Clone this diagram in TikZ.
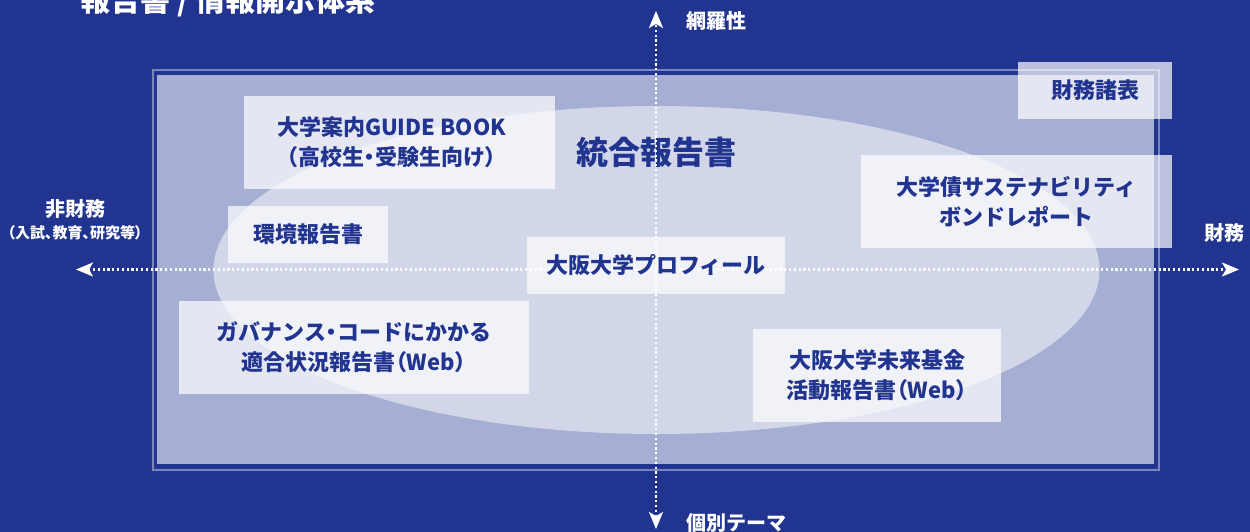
\documentclass[tikz,border=0pt]{standalone}
\usepackage{fontspec}
\setmainfont{Noto Sans CJK JP}
\usetikzlibrary{arrows.meta}
\definecolor{navy}{HTML}{213490}
\definecolor{panel}{HTML}{A6AED3}
\definecolor{frameline}{HTML}{7A85BC}
\newcommand\pnct[1]{{\addfontfeature{RawFeature=+palt}#1}}
\tikzset{
  docbox/.style={fill=white, fill opacity=0.7, text opacity=1, text=navy,
    inner sep=0pt, align=center, font=\bfseries\fontsize{22}{30}\selectfont},
  doctext/.style={text=navy, inner sep=0pt, align=center, font=\bfseries\fontsize{22}{30}\selectfont},
  axisline/.style={white, line width=2.2pt, dash pattern=on 2.2pt off 2.6pt,
    {Stealth[length=17pt,width=14pt,inset=4pt]}-{Stealth[length=17pt,width=14pt,inset=4pt]}},
  axislabel/.style={text=white, inner sep=0pt, font=\bfseries\fontsize{20}{24}\selectfont},
}
\begin{document}
\begin{tikzpicture}[x=1pt,y=-1pt]
  \fill[navy] (0,0) rectangle (1250,532);
  \useasboundingbox (0,0) rectangle (1250,532);
  % title (cut off at the top, as in the source)
  \node[text=white, inner sep=0pt, font=\bfseries\fontsize{30}{34}\selectfont] (title) at (228,1.5) {報告書 / 情報開示体系};
  % frame and panel
  \draw[frameline, line width=2pt] (153,70) rectangle (1159,470);
  \fill[panel] (157,75) rectangle (1154,464);
  % ellipse of the integrated report
  \fill[white, opacity=0.5] (656.5,270) ellipse [x radius=443, y radius=164];
  \node[text=navy, inner sep=0pt, font=\bfseries\fontsize{32}{36}\selectfont] (togo) at (656,152) {統合報告書};
  % axes
  \coordinate (vt) at (656,11);
  \coordinate (vb) at (656,529);
  \coordinate (hl) at (76,269.5);
  \coordinate (hr) at (1239,269.5);
  \draw[axisline] (vb) -- (vt);
  \draw[axisline] (hl) -- (hr);
  % axis labels
  \node[axislabel] (moura) at (716,21) {網羅性};
  \node[axislabel] (kobetsu) at (736,523) {個別テーマ};
  \node[axislabel] (hizaimu) at (75,209) {非財務};
  \node[text=white, inner sep=0pt, font=\bfseries\fontsize{15}{18}\selectfont] (hizaimusub) at (75,233) {\pnct{（}入試\pnct{、}教育\pnct{、}研究等\pnct{）}};
  \node[axislabel] (zaimu) at (1224,233) {財務};
  % documents
  \node[docbox, minimum width=311pt, minimum height=93pt] (guide) at (399.5,142.5) {};
  \node[doctext] (guidetext) at (391.5,142.5) {大学案内GUIDE BOOK\\\pnct{（}高校生\pnct{・}受験生向け\pnct{）}};
  \node[docbox, minimum width=160pt, minimum height=57pt] (kankyo) at (308,234.5) {環境報告書};
  \node[docbox, minimum width=258pt, minimum height=57pt] (profile) at (656,265.5) {大阪大学プロフィール};
  \node[docbox, minimum width=350pt, minimum height=93pt] (gov) at (354,347.5) {ガバナンス\pnct{・}コードにかかる\\適合状況報告書\pnct{（}Web\pnct{）}};
  \node[docbox, minimum width=248pt, minimum height=93pt] (kikin) at (877,375.5) {大阪大学未来基金\\活動報告書\pnct{（}Web\pnct{）}};
  \node[docbox, minimum width=154pt, minimum height=57pt] (shohyo) at (1095,90.5) {財務諸表};
  \node[docbox, minimum width=311pt, minimum height=93pt] (saiken) at (1016.5,201.5) {大学債サステナビリティ\\ボンドレポート};
\end{tikzpicture}
\end{document}
